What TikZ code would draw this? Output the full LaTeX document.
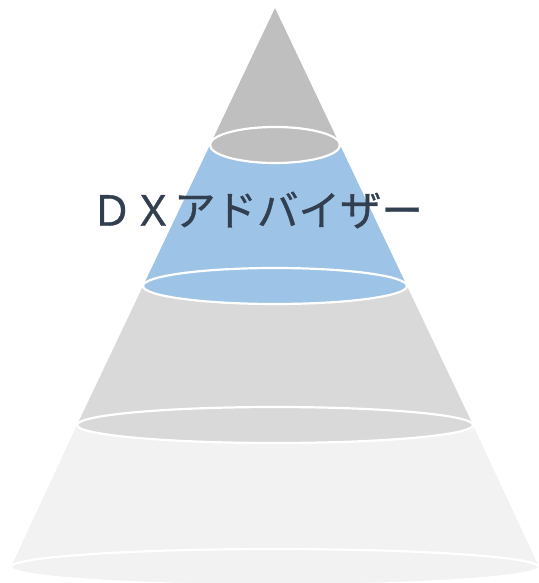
\documentclass[tikz,border=0pt]{standalone}
\usepackage{fontspec}
\usepackage{xcolor}
\usepackage{tikz}
\newfontfamily\cjk[FakeBold=0.8]{Noto Sans CJK JP}
\definecolor{layerA}{RGB}{191,191,191}
\definecolor{layerB}{RGB}{157,195,230}
\definecolor{layerC}{RGB}{217,217,217}
\definecolor{layerD}{RGB}{242,242,242}
\definecolor{dxtext}{RGB}{50,63,80}
\tikzset{rim/.style={draw=white,line width=2.2pt}}

\begin{document}
\begin{tikzpicture}[x=1pt,y=-1pt]
\clip (0,0) rectangle (538,583);
% cone, drawn from the bottom slice upwards
\foreach \ya/\wa/\yb/\wb/\col in {425/198/567/264/layerD,286/132/425/198/layerC,145/65/286/132/layerB,8/0/145/65/layerA}{
  \fill[\col] (275-\wa,\ya) -- (275+\wa,\ya) -- (275+\wb,\yb) -- (275-\wb,\yb) -- cycle;
  \filldraw[rim,fill=\col] (275,\yb) ellipse [x radius=\wb pt,y radius=18pt];}
\node[font=\cjk\fontsize{41.5}{41.5}\selectfont,text=dxtext] (title) at (257,210) {ＤＸアドバイザー};
\end{tikzpicture}
\end{document}
